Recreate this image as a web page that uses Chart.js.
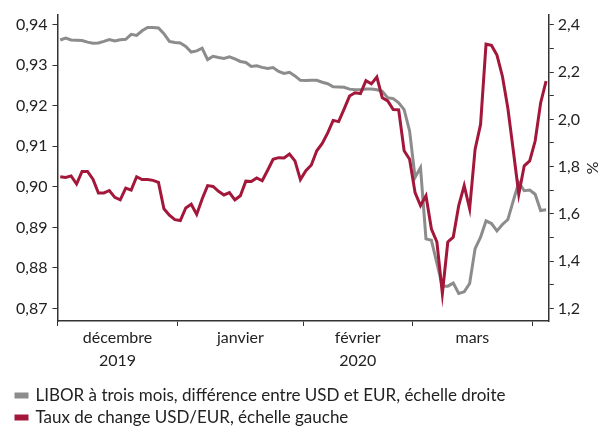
<!DOCTYPE html>
<html>
<head>
<meta charset="utf-8">
<script src="https://cdn.jsdelivr.net/npm/chart.js@4.4.1/dist/chart.umd.min.js"></script>
<style>
  html, body { margin: 0; padding: 0; background: #fff; }
</style>
</head>
<body>
<canvas id="chart" width="601" height="428"></canvas>
<script>
// one value per business day, 2 Dec 2019 -> early Apr 2020
const usdEur = [
  0.9025, 0.9023, 0.9027, 0.9007, 0.9038, 0.9038, 0.9019, 0.8985, 0.8985, 0.8991,
  0.8974, 0.8968, 0.8997, 0.8992, 0.9025, 0.9018, 0.9018, 0.9016, 0.9011, 0.8946,
  0.8930, 0.8919, 0.8917, 0.8948, 0.8957, 0.8932, 0.8970, 0.9003, 0.9001, 0.8989,
  0.8980, 0.8986, 0.8968, 0.8978, 0.9014, 0.9013, 0.9022, 0.9015, 0.9041, 0.9068,
  0.9072, 0.9071, 0.9081, 0.9064, 0.9018, 0.9040, 0.9054, 0.9089, 0.9107, 0.9133,
  0.9164, 0.9161, 0.9192, 0.9224, 0.9232, 0.9230, 0.9262, 0.9254, 0.9271, 0.9220,
  0.9212, 0.9191, 0.9190, 0.9089, 0.9068, 0.8986, 0.8954, 0.8978, 0.8896, 0.8864,
  0.8737, 0.8864, 0.8876, 0.8954, 0.9003, 0.8946, 0.9093, 0.9154, 0.9352, 0.9349,
  0.9325, 0.9273, 0.9194, 0.9089, 0.8982, 0.9052, 0.9064, 0.9113, 0.9207, 0.9261
];
const libor = [
  2.336, 2.344, 2.336, 2.335, 2.334, 2.327, 2.322, 2.323, 2.330, 2.338,
  2.332, 2.337, 2.339, 2.360, 2.355, 2.375, 2.389, 2.389, 2.387, 2.363,
  2.330, 2.325, 2.323, 2.309, 2.285, 2.290, 2.301, 2.253, 2.267, 2.262,
  2.258, 2.265, 2.256, 2.245, 2.241, 2.224, 2.227, 2.220, 2.215, 2.219,
  2.203, 2.194, 2.199, 2.184, 2.165, 2.164, 2.165, 2.165, 2.157, 2.151,
  2.138, 2.137, 2.136, 2.128, 2.125, 2.125, 2.128, 2.128, 2.125, 2.119,
  2.091, 2.088, 2.070, 2.041, 1.951, 1.754, 1.796, 1.494, 1.488, 1.391,
  1.294, 1.294, 1.307, 1.263, 1.270, 1.305, 1.453, 1.501, 1.570, 1.559,
  1.528, 1.555, 1.576, 1.656, 1.733, 1.698, 1.701, 1.683, 1.614, 1.617
];
const monthLabels = [["décembre", "2019"], "janvier", ["février", "2020"], "mars"];
const businessDays = [22, 23, 20, 22];
const leftTicks = [0.87, 0.88, 0.89, 0.90, 0.91, 0.92, 0.93, 0.94];
const rightTicks = [1.2, 1.3, 1.4, 1.5, 1.6, 1.7, 1.8, 1.9, 2.0, 2.1, 2.2, 2.3, 2.4];
const seriesNames = [
  "LIBOR à trois mois, différence entre USD et EUR, échelle droite",
  "Taux de change USD/EUR, échelle gauche"
];

const ink = "#222";
const axisColor = "#333";
const font = { family: "Lato", size: 16 };

// month boundaries and centres on the business-day index axis
const bounds = [-0.5];
businessDays.forEach(n => bounds.push(bounds[bounds.length - 1] + n));
const centres = monthLabels.map((m, i) => (bounds[i] + bounds[i + 1]) / 2);
const xTicks = bounds.concat(centres).sort((a, b) => a - b);

const fmt = (v, d) => v.toFixed(d).replace(".", ",");
const pts = arr => arr.map((v, i) => ({ x: i, y: v }));
const isBound = ctx => ctx.tick && bounds.includes(ctx.tick.value);

new Chart(document.getElementById("chart"), {
  type: "line",
  data: {
    datasets: [
      {
        label: seriesNames[0],
        data: pts(libor),
        yAxisID: "y1",
        borderColor: "#8c8c8c",
        backgroundColor: "#8c8c8c",
        borderWidth: 3,
        pointRadius: 0,
        tension: 0,
        order: 1
      },
      {
        label: seriesNames[1],
        data: pts(usdEur),
        yAxisID: "y",
        borderColor: "#a3173a",
        backgroundColor: "#a3173a",
        borderWidth: 3,
        pointRadius: 0,
        tension: 0,
        order: 0
      }
    ]
  },
  options: {
    responsive: false,
    animation: false,
    layout: { padding: { left: 11, right: 0, top: 13, bottom: -8 } },
    plugins: {
      tooltip: { enabled: false },
      legend: {
        position: "bottom",
        align: "start",
        labels: {
          sort: (a, b) => a.datasetIndex - b.datasetIndex,
          boxWidth: 11,
          boxHeight: 3,
          padding: 5,
          color: ink,
          font: { family: "Lato", size: 17 }
        }
      }
    },
    scales: {
      x: {
        type: "linear",
        min: -0.5,
        max: usdEur.length - 0.5,
        afterBuildTicks: s => { s.ticks = xTicks.map(v => ({ value: v })); },
        border: { color: axisColor, width: 1.5 },
        grid: {
          drawOnChartArea: false,
          tickLength: 5,
          tickWidth: 1,
          color: ctx => isBound(ctx) ? axisColor : "rgba(0,0,0,0)",
          tickColor: ctx => isBound(ctx) ? axisColor : "rgba(0,0,0,0)"
        },
        ticks: {
          autoSkip: false,
          maxRotation: 0,
          padding: 1,
          color: ink,
          font: { family: "Lato", size: 16, lineHeight: 1.4 },
          callback: v => {
            const k = centres.indexOf(v);
            return k >= 0 ? monthLabels[k] : "";
          }
        },
        // empty title only to keep room above the legend
        title: { display: true, text: "", font: { size: 6 }, padding: { top: 2, bottom: 0 } }
      },
      y: {
        position: "left",
        min: 0.8669,
        max: 0.9425,
        afterBuildTicks: s => { s.ticks = leftTicks.map(v => ({ value: v })); },
        border: { color: axisColor, width: 1.5 },
        grid: { drawOnChartArea: false, tickLength: 5, color: axisColor },
        ticks: {
          autoSkip: false,
          padding: 5,
          color: ink,
          font: font,
          callback: v => fmt(v, 2)
        }
      },
      y1: {
        position: "right",
        min: 1.1465,
        max: 2.4434,
        afterBuildTicks: s => { s.ticks = rightTicks.map(v => ({ value: v })); },
        border: { color: axisColor, width: 1.5 },
        grid: { drawOnChartArea: false, tickLength: 5, color: axisColor },
        ticks: {
          autoSkip: false,
          padding: 4,
          color: ink,
          font: font,
          callback: v => (Math.round(v * 10) % 2 === 0 ? fmt(v, 1) : "")
        },
        title: {
          display: true,
          text: "%",
          color: ink,
          font: { family: "Lato", size: 16, lineHeight: 1 },
          padding: { top: 1, bottom: 0 }
        }
      }
    }
  }
});
</script>
</body>
</html>
